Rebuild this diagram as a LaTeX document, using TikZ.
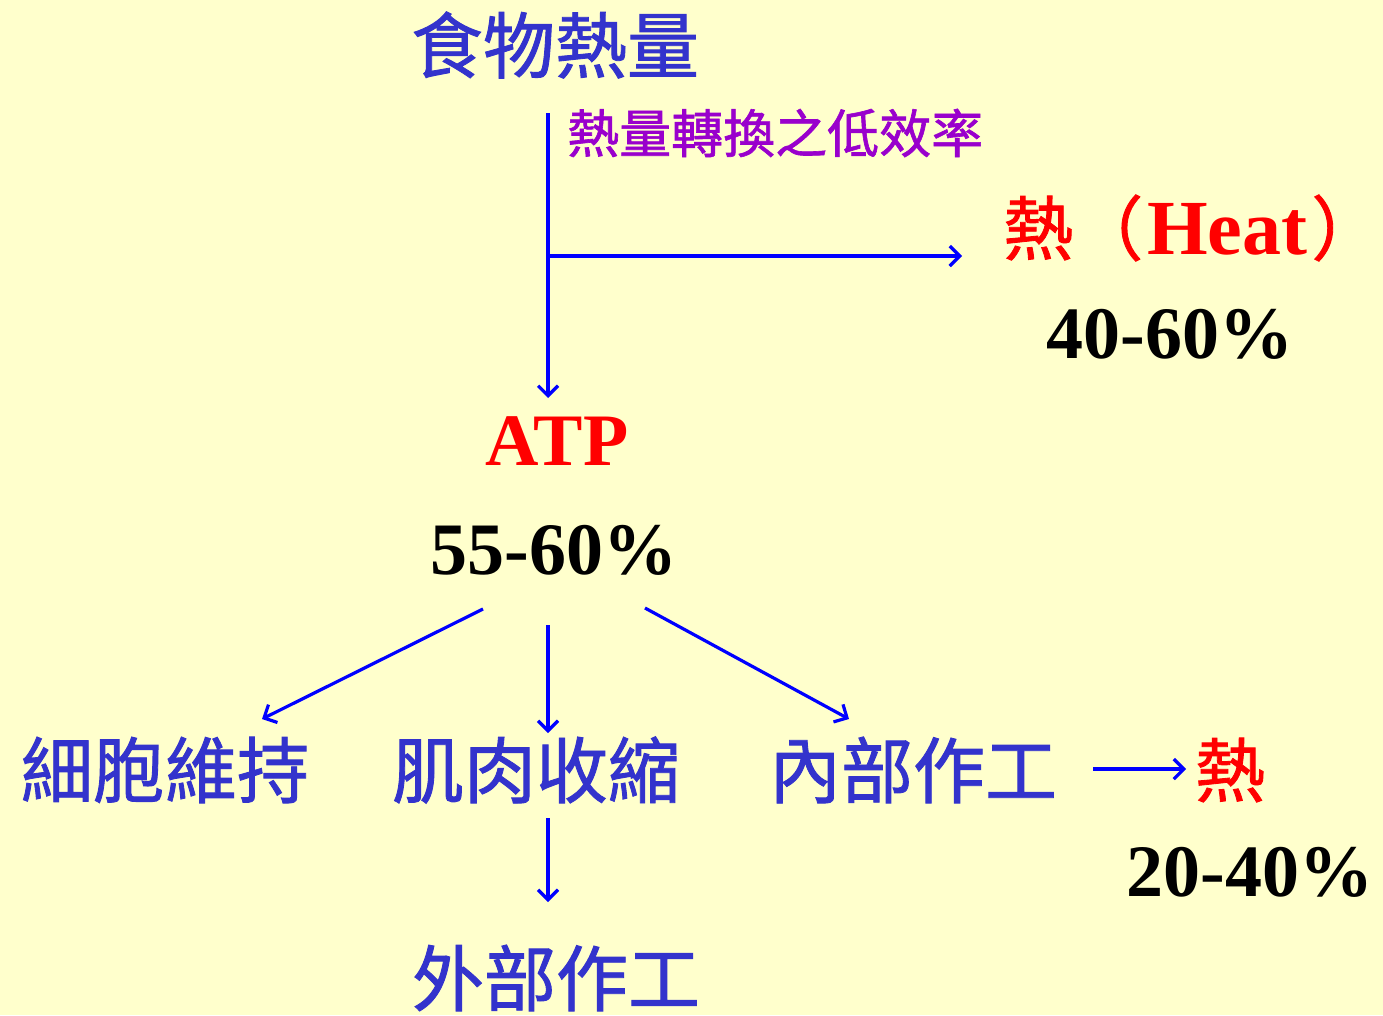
\documentclass[tikz,border=0pt]{standalone}
\usepackage{fontspec}
\setmainfont{Liberation Serif}
\newfontfamily\cjk[FakeBold=1.2]{Noto Sans CJK TC}
\usetikzlibrary{arrows.meta}
\definecolor{bg}{HTML}{FFFFCC}
\definecolor{txtblue}{HTML}{3333CC}
\definecolor{arrblue}{HTML}{0000FF}
\definecolor{purp}{HTML}{9900CC}
\definecolor{hred}{HTML}{FF0000}
\tikzset{
  cjkbig/.style={inner sep=0pt, font=\cjk\fontsize{72}{80}\selectfont, text=txtblue},
  cjkmid/.style={inner sep=0pt, font=\cjk\fontsize{52}{60}\selectfont, text=purp},
  pct/.style={inner sep=0pt, font=\bfseries\fontsize{74}{80}\selectfont, text=black},
  redlbl/.style={inner sep=0pt, text=hred},
  arr/.style={draw=arrblue, line width=3.2pt, -{Straight Barb[length=10pt,width=20pt,line width=3.2pt]}}
}
\begin{document}
\begin{tikzpicture}[x=1pt,y=-1pt]
\fill[bg] (0,0) rectangle (1383,1015);
\useasboundingbox (0,0) rectangle (1383,1015);
% nodes
\node[cjkbig] (food) at (555,45) {食物熱量};
\node[cjkmid, anchor=west] (eff) at (567,133) {熱量轉換之低效率};
\node[redlbl, anchor=west] (heat) at (1003,228) {{\cjk\fontsize{70}{80}\selectfont 熱（}\hspace{4pt}{\bfseries\fontsize{78}{80}\selectfont Heat}\hspace{4pt}{\cjk\fontsize{70}{80}\selectfont ）}};
\node[pct] (p1) at (1170,334) {40-60\%};
\node[redlbl, font=\bfseries\fontsize{74}{80}\selectfont] (atp) at (557,441) {ATP};
\node[pct] (p2) at (554,550) {55-60\%};
\node[cjkbig] (cell) at (165,770) {細胞維持};
\node[cjkbig] (muscle) at (536,770) {肌肉收縮};
\node[cjkbig] (inner) at (913,770) {內部作工};
\node[redlbl, font=\cjk\fontsize{70}{80}\selectfont] (heat2) at (1230,770) {熱};
\node[pct] (p3) at (1250,872) {20-40\%};
\node[cjkbig] (outer) at (556,978) {外部作工};
% connector anchor points
\coordinate (vtop) at (548,113);
\coordinate (vjoin) at (548,256);
\coordinate (vend) at (548,398);
\coordinate (hend) at (962,256);
\coordinate (dl0) at (483,609);
\coordinate (dl1) at (262,719);
\coordinate (dm0) at (548,625);
\coordinate (dm1) at (548,733);
\coordinate (dr0) at (645,608);
\coordinate (dr1) at (849,719);
\coordinate (ha0) at (1093,769);
\coordinate (ha1) at (1186,769);
\coordinate (oa0) at (548,818);
\coordinate (oa1) at (548,902);
% connectors
\draw[arr] (vtop) -- (vend);
\draw[arr] (vjoin) -- (hend);
\draw[arr] (dl0) -- (dl1);
\draw[arr] (dm0) -- (dm1);
\draw[arr] (dr0) -- (dr1);
\draw[arr] (ha0) -- (ha1);
\draw[arr] (oa0) -- (oa1);
\end{tikzpicture}
\end{document}
